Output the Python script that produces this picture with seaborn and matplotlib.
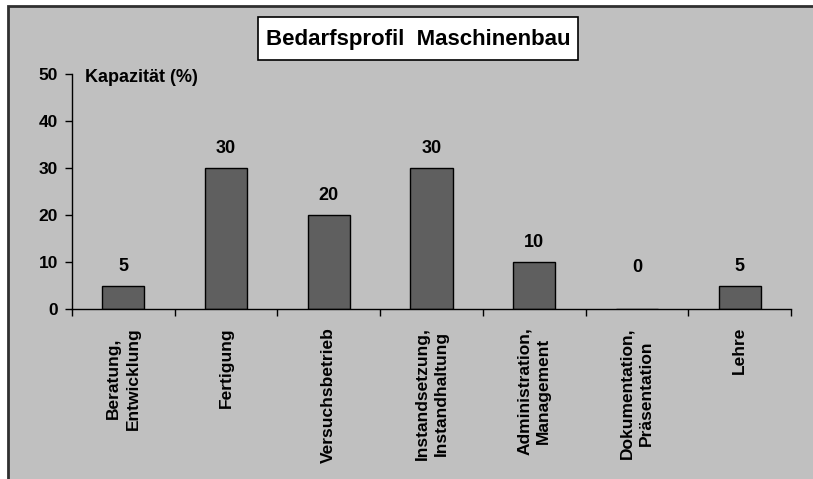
import numpy as np
import pandas as pd
import matplotlib
matplotlib.use("Agg")
import matplotlib.pyplot as plt
from matplotlib.patches import Rectangle
import seaborn as sns

# data
categories = ["Beratung,\nEntwicklung", "Fertigung", "Versuchsbetrieb",
              "Instandsetzung,\nInstandhaltung", "Administration,\nManagement",
              "Dokumentation,\nPräsentation", "Lehre"]
values = [5, 30, 20, 30, 10, 0, 5]
yticks = [0, 10, 20, 30, 40, 50]

df = pd.DataFrame({"kategorie": categories, "kapazitaet": values})

sns.set_style("white")
plt.rcParams["font.family"] = ["Liberation Sans", "DejaVu Sans"]
plt.rcParams["font.weight"] = "bold"
plt.rcParams["text.color"] = "black"
plt.rcParams["xtick.color"] = "black"
plt.rcParams["ytick.color"] = "black"
plt.rcParams["xtick.labelcolor"] = "black"
plt.rcParams["ytick.labelcolor"] = "black"

W, H = 813, 479
fig = plt.figure(figsize=(W / 100, H / 100), dpi=100)
fig.patch.set_facecolor("white")

# grey chart area with dark border on top/left
fig.patches.append(Rectangle((8 / W, -0.1), 1.1, 1.1 - 6 / H, transform=fig.transFigure,
                             facecolor="#C0C0C0", edgecolor="#303030", linewidth=2,
                             zorder=-5))

ax = fig.add_axes([72 / W, 1 - 309 / H, (791 - 72) / W, (309 - 74) / H])
ax.patch.set_alpha(0)

sns.barplot(x="kategorie", y="kapazitaet", data=df, color="#5F5F5F", saturation=1,
            edgecolor="black", linewidth=1, width=0.41, ax=ax)

# value labels
for i, v in enumerate(values):
    ax.annotate(str(v), (i, max(v, 4.6)), xytext=(0, 14), textcoords="offset points",
                ha="center", va="center", fontsize=13, fontweight="bold", color="black")

ax.set_xlim(-0.5, len(categories) - 0.5)
ax.set_ylim(0, 50)
ax.set_yticks(yticks)
ax.set_yticklabels([str(t) for t in yticks], fontsize=12.5, fontweight="bold")
ax.set_xticks(range(len(categories)))
ax.set_xticklabels(categories, rotation=90, fontsize=12.5, fontweight="bold",
                   ha="center", va="top", multialignment="center", linespacing=1.35)
ax.set_xticks(np.arange(-0.5, len(categories)), minor=True)
ax.tick_params(axis="x", which="major", bottom=True, length=0, pad=13)
ax.tick_params(axis="x", which="minor", bottom=True, length=5, width=1,
               color="black", direction="out")
ax.tick_params(axis="y", which="major", left=True, length=5, width=1,
               color="black", direction="out", pad=5)
ax.set_xlabel("")
ax.set_ylabel("")

sns.despine(ax=ax, left=False, bottom=False, right=True, top=True)
for s in ["left", "bottom"]:
    ax.spines[s].set_color("black")
    ax.spines[s].set_linewidth(1)

fig.text(85 / W, 1 - 78 / H, "Kapazität (%)", ha="left", va="center",
         fontsize=13, fontweight="bold")

# title box
fig.patches.append(Rectangle((258 / W, 1 - 60 / H), (578 - 258) / W, 43 / H,
                             transform=fig.transFigure, facecolor="white",
                             edgecolor="black", linewidth=1.2, zorder=1))
fig.text(418 / W, 1 - 39 / H, "Bedarfsprofil  Maschinenbau", ha="center", va="center",
         fontsize=16, fontweight="bold", zorder=2)

plt.savefig("out.png", dpi=100)
